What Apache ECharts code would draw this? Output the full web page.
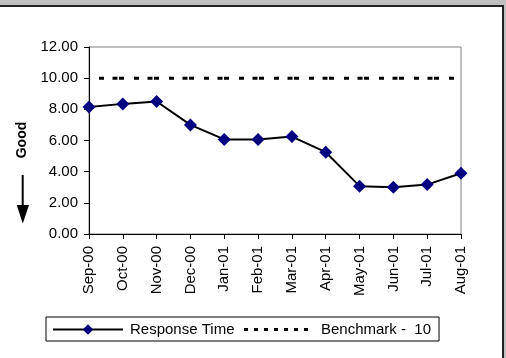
<!DOCTYPE html>
<html>
<head>
<meta charset="utf-8">
<script src="https://cdn.jsdelivr.net/npm/echarts@6/dist/echarts.min.js"></script>
<style>
html,body{margin:0;padding:0;background:#fff;}
#c{width:506px;height:358px;}
</style>
</head>
<body>
<div id="c"></div>
<script>
const categories = ['Sep-00','Oct-00','Nov-00','Dec-00','Jan-01','Feb-01','Mar-01','Apr-01','May-01','Jun-01','Jul-01','Aug-01'];
const responseTime = [8.15, 8.35, 8.5, 7.0, 6.07, 6.07, 6.25, 5.25, 3.07, 3.0, 3.17, 3.9];
const benchmark = [10, 10, 10, 10, 10, 10, 10, 10, 10, 10, 10, 10];
const yTicks = [0, 2, 4, 6, 8, 10, 12];
const seriesNames = ['Response Time', 'Benchmark -  10'];

const chart = echarts.init(document.getElementById('c'), null, {renderer: 'canvas'});
const font = 'Arial, "Liberation Sans", sans-serif';
chart.setOption({
  animation: false,
  backgroundColor: '#fff',
  textStyle: {fontFamily: font},
  grid: {left: 89, right: 45, top: 47, bottom: 124, show: true, borderColor: '#808080', borderWidth: 1, backgroundColor: '#fff'},
  xAxis: {
    type: 'category', data: categories, boundaryGap: false,
    axisLine: {lineStyle: {color: '#000', width: 1}},
    axisTick: {show: true, length: 5, lineStyle: {color: '#000'}},
    axisLabel: {rotate: 90, fontSize: 15, color: '#000', margin: 12, fontFamily: font, interval: 0}
  },
  yAxis: {
    type: 'value', min: yTicks[0], max: yTicks[yTicks.length - 1], interval: yTicks[1] - yTicks[0],
    axisLine: {show: true, lineStyle: {color: '#000', width: 1}},
    axisTick: {show: true, length: 5, lineStyle: {color: '#000'}},
    splitLine: {show: false},
    axisLabel: {fontSize: 15, color: '#000', margin: 11, fontFamily: font, formatter: v => v.toFixed(2)}
  },
  legend: {
    left: 46, top: 317,
    padding: [5, 8, 4, 6],
    itemGap: 8, itemWidth: 70, itemHeight: 13,
    borderColor: '#000', borderWidth: 1, backgroundColor: '#fff',
    textStyle: {fontSize: 15, color: '#000', fontFamily: font, padding: [0, 0, 0, 2]},
    data: [
      {name: seriesNames[0]},
      {name: seriesNames[1], itemStyle: {opacity: 0}, lineStyle: {type: [4, 6], dashOffset: 0, width: 3, opacity: 1}}
    ]
  },
  series: [
    {
      name: seriesNames[0], type: 'line', data: responseTime,
      symbol: 'diamond', symbolSize: 13,
      itemStyle: {color: '#000080'},
      lineStyle: {color: '#000', width: 2},
      z: 3
    },
    {
      name: seriesNames[1], type: 'line', data: benchmark,
      symbol: 'none',
      itemStyle: {color: '#000'},
      lineStyle: {color: '#000', width: 3, type: [5, 8.5, 5, 1.5, 5, 10], dashOffset: 25},
      z: 2
    }
  ],
  graphic: [
    {type: 'rect', shape: {x: 0, y: 0, width: 506, height: 5}, style: {fill: '#c0c0c0'}, silent: true},
    {type: 'rect', shape: {x: 504, y: 0, width: 2, height: 358}, style: {fill: '#c0c0c0'}, silent: true},
    {type: 'rect', shape: {x: 0, y: 5, width: 504, height: 2}, style: {fill: '#222'}, silent: true},
    {type: 'rect', shape: {x: 502, y: 5, width: 2, height: 353}, style: {fill: '#222'}, silent: true},
    {type: 'text', x: 22.5, y: 140, rotation: Math.PI / 2,
      style: {text: 'Good', font: 'bold 14px ' + font, fill: '#000', textAlign: 'center', textVerticalAlign: 'middle'}, silent: true},
    {type: 'line', shape: {x1: 22.7, y1: 175, x2: 22.7, y2: 207}, style: {stroke: '#000', lineWidth: 2}, silent: true},
    {type: 'polygon', shape: {points: [[16.7, 205], [29, 205], [22.8, 223.5]]}, style: {fill: '#000'}, silent: true}
  ]
});
</script>
</body>
</html>
